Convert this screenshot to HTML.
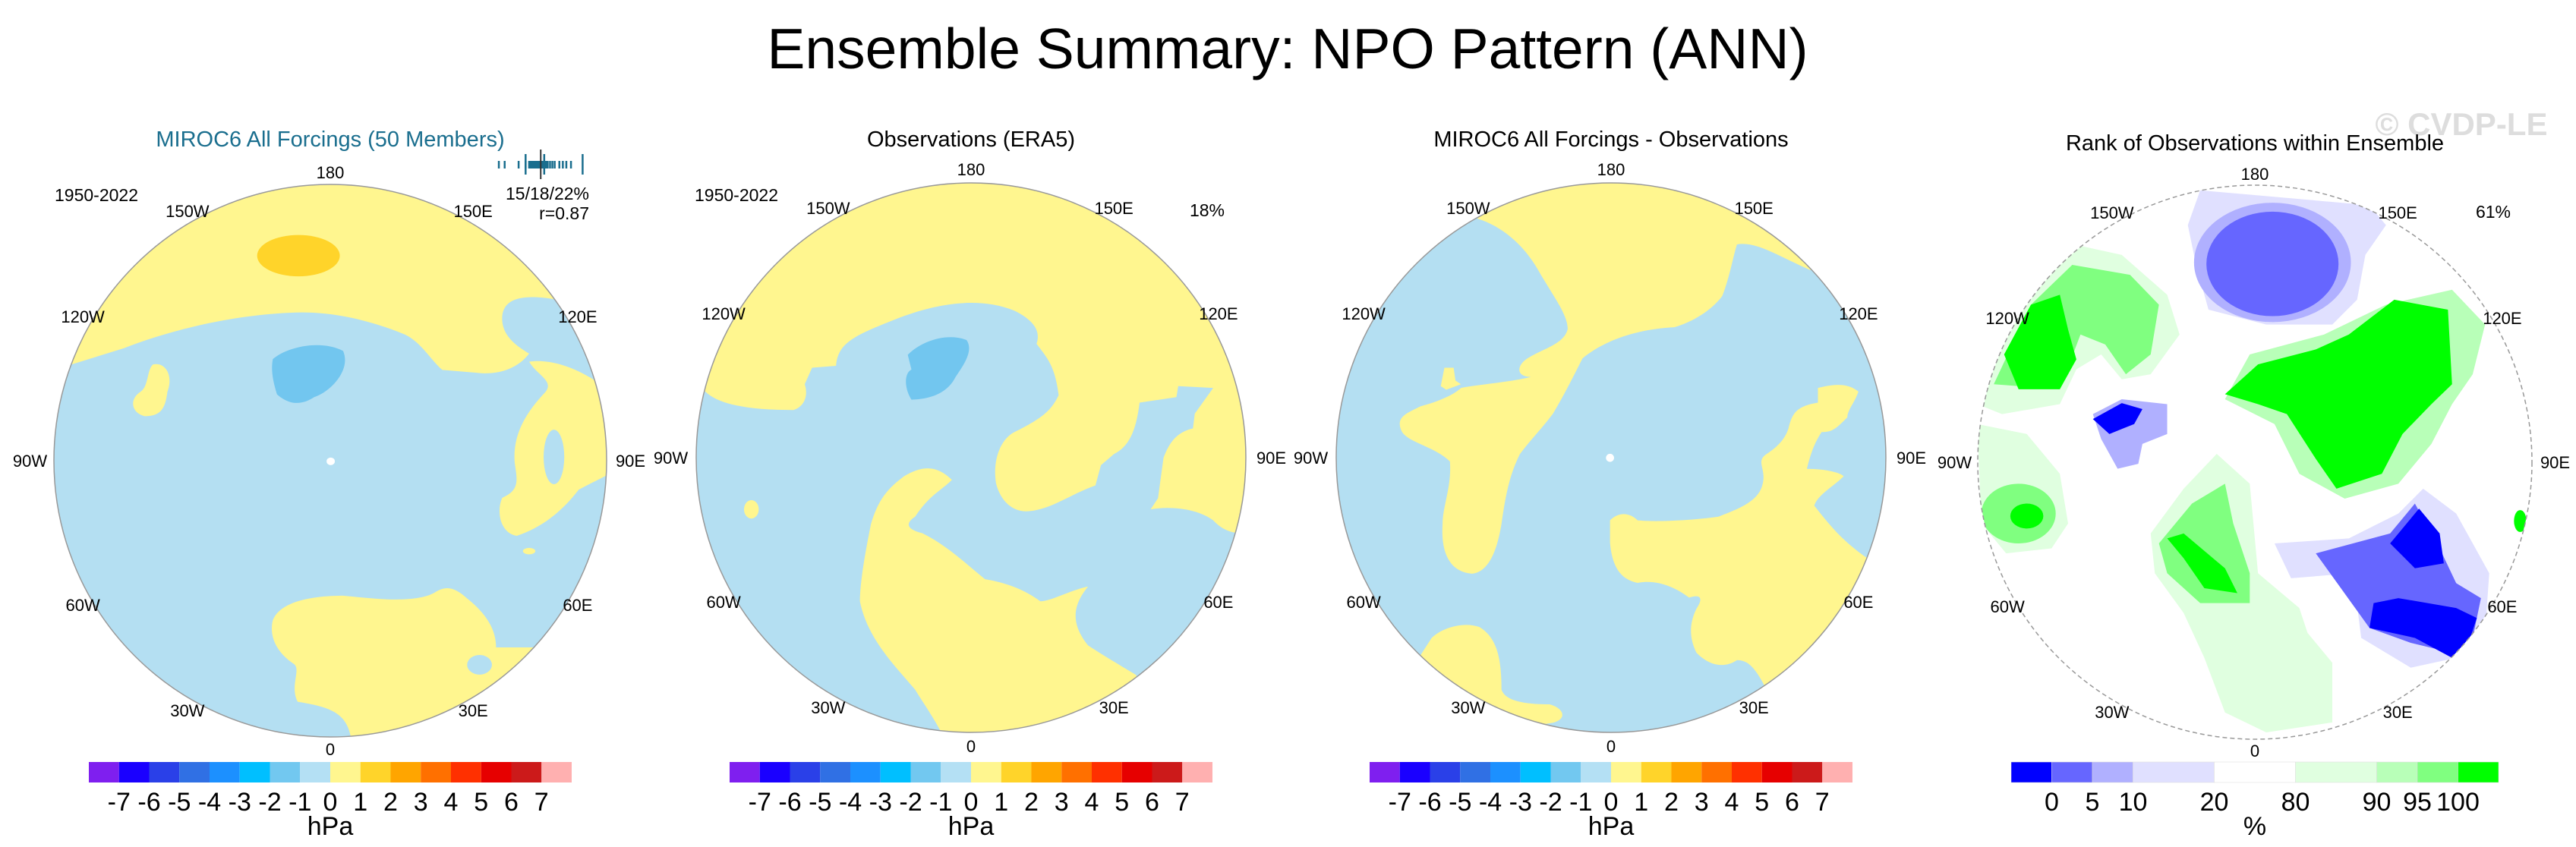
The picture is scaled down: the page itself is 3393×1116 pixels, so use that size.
<!DOCTYPE html>
<html><head><meta charset="utf-8"><style>
html,body{margin:0;padding:0;background:#fff}
svg{display:block}
text{font-family:"Liberation Sans",Arial,sans-serif}
</style></head><body>
<svg id="fig" width="3393" height="1116" viewBox="0 0 3393 1116" xmlns="http://www.w3.org/2000/svg">
<defs>
<clipPath id="c1"><circle cx="435" cy="607" r="364"/></clipPath>
<clipPath id="c2"><circle cx="1279" cy="603" r="362"/></clipPath>
<clipPath id="c3"><circle cx="2122" cy="603" r="362"/></clipPath>
<clipPath id="c4"><circle cx="2970" cy="609" r="365"/></clipPath>
</defs>
<text x="1696" y="90" font-size="75" text-anchor="middle">Ensemble Summary: NPO Pattern (ANN)</text>
<text x="3242" y="178" font-size="42" font-weight="bold" fill="#dddddd" text-anchor="middle">© CVDP-LE</text>

<!-- Panel 1 -->
<g>
<text x="435" y="193" font-size="29" fill="#1a6e8e" text-anchor="middle">MIROC6 All Forcings (50 Members)</text>
<text x="127" y="265" font-size="23" text-anchor="middle">1950-2022</text>
<text x="776" y="263" font-size="23" text-anchor="end">15/18/22%</text>
<text x="776" y="289" font-size="23" text-anchor="end">r=0.87</text>
<g id="members"></g>
<g clip-path="url(#c1)">
<rect x="60" y="230" width="760" height="760" fill="#b4dff2"/>
<g transform="scale(0.5445,0.7168)">
<path fill="#fff68f" d="M130 300 L1500 300 L1500 550 L1340 550 C1260 540 1220 550 1215 580 C1210 620 1260 640 1280 650 C1250 680 1200 690 1150 685 L1070 680 C1040 660 1020 630 980 615 C900 590 800 570 700 575 C550 580 400 610 300 640 L130 680 Z"/>
<path fill="#fff68f" d="M1500 680 L1440 700 C1380 670 1320 660 1280 665 C1300 690 1340 700 1320 720 C1270 760 1240 800 1245 850 C1250 880 1260 900 1215 915 C1200 940 1210 980 1250 985 C1310 970 1360 940 1400 900 C1450 880 1480 870 1500 860 Z"/>
<ellipse cx="1340" cy="840" rx="25" ry="50" fill="#b4dff2"/>
<ellipse cx="722" cy="470" rx="100" ry="38" fill="#ffd42a"/>
<path fill="#72c6ef" d="M660 660 C700 635 780 625 830 645 C850 680 800 720 760 730 C730 745 700 745 670 725 C660 700 655 680 660 660 Z"/>
<path fill="#fff68f" d="M370 670 C400 665 420 690 405 720 C400 750 390 765 350 765 C320 760 310 735 340 720 C360 710 355 680 370 670 Z"/>
<ellipse cx="1280" cy="1013" rx="15" ry="6" fill="#fff68f"/>
<path fill="#fff68f" d="M660 1140 C680 1100 780 1095 830 1095 C900 1100 1000 1110 1050 1090 C1080 1075 1100 1080 1130 1100 C1180 1130 1200 1160 1200 1190 L1290 1190 L1300 1300 L900 1400 L850 1360 C840 1310 800 1300 720 1290 C700 1260 730 1230 710 1220 C670 1200 650 1170 660 1140 Z"/>
<ellipse cx="1160" cy="1222" rx="30" ry="18" fill="#b4dff2"/>
<ellipse cx="800" cy="848" rx="10" ry="7" fill="#fff"/>
</g>
</g>
<circle cx="435" cy="607" r="364" fill="none" stroke="#999" stroke-width="1.5"/>
</g>

<!-- Panel 2 -->
<g>
<text x="1279" y="193" font-size="29" text-anchor="middle">Observations (ERA5)</text>
<text x="970" y="265" font-size="23" text-anchor="middle">1950-2022</text>
<text x="1590" y="285" font-size="23" text-anchor="middle">18%</text>
<g clip-path="url(#c2)">
<rect x="900" y="230" width="760" height="760" fill="#fff68f"/>
<g transform="translate(900,230) scale(0.4847)">
<path fill="#b4dff2" d="M0 600 L60 590 C100 630 200 640 300 640 C330 630 340 600 330 570 L350 525 L415 520 C420 460 460 440 560 400 C680 350 800 330 900 370 C960 400 970 430 960 460 C990 500 1010 520 1020 600 C1000 640 980 660 900 700 C860 720 840 780 850 840 C860 880 890 920 940 915 C1000 910 1050 870 1120 845 L1135 790 L1170 760 C1210 740 1230 700 1240 620 L1340 605 L1345 575 L1440 580 L1390 650 L1385 690 C1340 700 1320 730 1305 770 L1290 880 L1270 910 C1330 900 1400 910 1440 940 C1470 970 1490 980 1600 980 L1600 1600 L1250 1400 L1230 1360 C1180 1330 1130 1300 1100 1280 C1060 1230 1050 1180 1100 1120 C1050 1130 1000 1160 970 1160 C930 1130 880 1110 820 1100 C770 1060 720 1010 650 975 C610 965 600 950 630 930 C670 870 700 860 730 830 C690 790 650 790 600 820 C560 850 530 880 510 950 C500 1000 480 1100 480 1160 C500 1260 570 1330 630 1400 C660 1450 700 1500 740 1600 L0 1600 Z"/>
<ellipse cx="185" cy="910" rx="20" ry="25" fill="#fff68f"/>
<path fill="#72c6ef" d="M610 490 C650 450 720 430 770 450 C790 480 760 520 740 550 C720 590 680 610 620 612 C600 580 600 540 620 530 Z"/>
</g>
</g>
<circle cx="1279" cy="603" r="362" fill="none" stroke="#999" stroke-width="1.5"/>
</g>

<!-- Panel 3 -->
<g>
<text x="2122" y="193" font-size="29" text-anchor="middle">MIROC6 All Forcings - Observations</text>
<g clip-path="url(#c3)">
<rect x="1745" y="230" width="760" height="760" fill="#b4dff2"/>
<g transform="translate(1745,230) scale(0.4847)">
<path fill="#fff68f" d="M415 120 C480 140 540 190 580 260 C620 330 660 380 660 420 C650 460 600 470 550 500 C520 520 520 550 560 550 C500 565 420 570 370 580 C350 600 300 620 260 630 C220 650 190 660 210 700 C230 730 300 740 340 780 C345 850 320 900 320 950 C315 1030 340 1080 400 1085 C450 1080 470 1010 480 950 C490 880 500 820 530 760 C560 720 590 690 620 650 C650 600 680 540 700 500 C760 450 850 420 950 415 C1000 400 1050 370 1080 330 C1100 280 1110 220 1120 190 C1170 180 1230 220 1320 260 L1320 0 L415 0 Z"/>
<path fill="#fff68f" d="M325 525 L350 525 L355 560 L370 570 L330 585 L315 575 Z"/>
<path fill="#fff68f" d="M775 940 C800 915 830 920 850 940 C900 945 1000 940 1070 930 C1120 910 1180 890 1190 840 C1200 800 1170 780 1200 760 C1230 740 1250 720 1260 690 C1270 650 1280 630 1340 620 L1340 580 C1380 570 1420 565 1450 590 C1440 620 1420 640 1420 660 C1390 690 1380 700 1350 700 C1330 730 1320 760 1310 800 C1360 800 1400 810 1410 820 C1380 850 1340 870 1330 900 C1370 950 1400 990 1470 1040 L1600 1050 L1600 1600 L1200 1400 C1170 1340 1150 1320 1120 1320 C1090 1340 1050 1340 1010 1300 C990 1260 990 1220 1010 1180 C1030 1150 1020 1140 990 1150 C950 1120 900 1100 850 1110 C800 1100 780 1060 775 1000 Z"/>
<path fill="#fff68f" d="M290 1260 C320 1230 380 1215 420 1230 C470 1260 480 1320 480 1400 C490 1430 540 1440 610 1440 C650 1450 660 1480 620 1490 L560 1500 L200 1400 Z"/>
<circle cx="775" cy="770" r="11" fill="#fff"/>
</g>
</g>
<circle cx="2122" cy="603" r="362" fill="none" stroke="#999" stroke-width="1.5"/>
</g>

<!-- Panel 4 -->
<g>
<text x="2970" y="198" font-size="29" text-anchor="middle">Rank of Observations within Ensemble</text>
<text x="3284" y="287" font-size="23" text-anchor="middle">61%</text>
<g clip-path="url(#c4)">
<rect x="2600" y="240" width="740" height="740" fill="#fff"/>
<g transform="translate(2550,100) scale(0.5438,0.6553)">
<path fill="#e0e0ff" d="M640 230 L1050 260 L1090 300 L1040 360 L1020 450 L960 500 L800 500 L660 470 L630 380 L610 300 Z"/>
<ellipse cx="815" cy="375" rx="190" ry="120" fill="#b0b0ff"/>
<ellipse cx="815" cy="378" rx="160" ry="105" fill="#6666ff"/>
<path fill="#e0ffe0" d="M100 660 L200 470 L340 340 L450 360 L560 440 L590 520 L520 600 L450 610 L400 560 L340 590 L300 660 L160 680 Z"/>
<path fill="#80ff80" d="M140 620 L230 460 L330 380 L470 400 L540 460 L520 560 L460 600 L410 540 L350 520 L300 630 Z"/>
<path fill="#00ff00" d="M165 560 L230 460 L300 440 L320 510 L340 570 L300 630 L200 630 Z"/>
<path fill="#b8ffb8" d="M700 650 L760 560 L940 520 L1090 460 L1250 430 L1330 500 L1300 600 L1250 660 L1200 740 L1120 820 L990 850 L880 800 L820 700 Z"/>
<path fill="#00ff00" d="M700 640 L780 580 L920 550 L1000 520 L1110 450 L1240 470 L1250 620 L1200 660 L1130 720 L1080 800 L970 830 L920 770 L850 680 L780 660 Z"/>
<path fill="#b0b0ff" d="M380 680 L450 650 L560 660 L560 720 L500 740 L490 780 L440 790 L400 730 Z"/>
<path fill="#0000ff" d="M380 690 L450 658 L500 670 L480 700 L420 720 Z"/>
<path fill="#e0ffe0" d="M100 700 L220 720 L300 800 L320 900 L280 950 L170 960 L110 900 Z"/>
<ellipse cx="200" cy="880" rx="90" ry="60" fill="#80ff80"/>
<ellipse cx="220" cy="885" rx="40" ry="25" fill="#00ff00"/>
<path fill="#e0ffe0" d="M520 920 L600 830 L680 760 L760 820 L780 1000 L880 1070 L900 1120 L960 1180 L960 1300 L800 1320 L700 1280 L650 1170 L600 1080 L530 1000 Z"/>
<path fill="#80ff80" d="M540 940 L620 860 L700 820 L720 900 L760 1000 L760 1060 L640 1060 L560 1000 Z"/>
<path fill="#00ff00" d="M560 930 L600 920 L700 990 L730 1040 L650 1030 L600 970 Z"/>
<path fill="#e0e0ff" d="M820 940 L1000 930 L1120 880 L1180 830 L1260 880 L1340 1000 L1330 1120 L1260 1170 L1150 1190 L1030 1130 L1010 1000 L860 1010 Z"/>
<path fill="#6666ff" d="M920 960 L1100 920 L1160 860 L1220 950 L1260 1020 L1320 1050 L1300 1130 L1250 1160 L1150 1140 L1050 1110 Z"/>
<path fill="#0000ff" d="M1100 940 L1170 870 L1220 920 L1230 980 L1160 990 Z"/>
<path fill="#0000ff" d="M1060 1060 L1120 1050 L1260 1070 L1310 1090 L1290 1140 L1250 1170 L1160 1130 L1050 1110 Z"/>
<ellipse cx="1415" cy="895" rx="15" ry="22" fill="#00ff00"/>
</g>
</g>
<circle cx="2970" cy="609" r="365" fill="none" stroke="#999" stroke-width="1.5" stroke-dasharray="6 4"/>
</g>

<g id="lonlabels"></g>
<g id="cbars"></g>
</svg>
<script>
const NS = "http://www.w3.org/2000/svg";
const anomalyLevels = [-7,-6,-5,-4,-3,-2,-1,0,1,2,3,4,5,6,7];
const anomalyColors = ["#7f1fef","#1a00ff","#2a40e8","#3070e4","#1c90ff","#00bfff","#72c8f0","#b4e0f4","#fff68f","#ffd42a","#ffa500","#ff7000","#ff3000","#e60000","#cc1a1a","#ffb0b0"];
const rankLevels = [0,5,10,20,80,90,95,100];
const rankWidths = [1,1,1,2,2,2,1,1,1];
const rankColors = ["#0000ff","#6666ff","#b0b0ff","#e0e0ff","#ffffff","#e0ffe0","#b8ffb8","#80ff80","#00ff00"];
const memberValues = [-0.30,-0.25,-0.13,-0.07,-0.04,-0.03,-0.02,-0.01,0.00,0.01,0.02,0.03,0.04,0.05,0.06,0.07,0.08,0.09,0.10,0.11,0.12,0.14,0.16,0.18,0.22,0.25,0.28,0.32];
const memberLong = [-0.07,0.09,0.42];
const obsValue = 0.06;
const lonNames = ["180","150W","150E","120W","120E","90W","90E","60W","60E","30W","30E","0"];
const lonAngles = [180,-150,150,-120,120,-90,90,-60,60,-30,30,0];
const panelCenters = [[435,607],[1279,603],[2122,603],[2970,609]];

function mk(tag, attrs, parent){const e=document.createElementNS(NS,tag);for(const k in attrs)e.setAttribute(k,attrs[k]);parent.appendChild(e);return e;}

const mg=document.getElementById('members');
const mx=v=>654+(v+0.32)/(0.45+0.32)*(772-654);
memberValues.forEach(v=>{const l=mk('line',{x1:mx(v),x2:mx(v),y1:212,y2:222,stroke:'#1a6e8e','stroke-width':2.5},mg);

});
memberLong.forEach(v=>{const l=mk('line',{x1:mx(v),x2:mx(v),y1:203,y2:230,stroke:'#1a6e8e','stroke-width':2.5},mg);

});
{const l=mk('line',{x1:mx(obsValue),x2:mx(obsValue),y1:197,y2:236,stroke:'#333','stroke-width':2},mg);

}

const lg=document.getElementById('lonlabels');
panelCenters.forEach(([cx,cy])=>{
  lonNames.forEach((n,i)=>{
    const a=lonAngles[i]*Math.PI/180;
    const R = 384;
    const x=cx+Math.sin(a)*R*(Math.abs(lonAngles[i])==90?1.03:0.98);
    const y=cy+Math.cos(a)*R*0.99;
    const t=mk('text',{x:x,y:y+8,'font-size':22,'text-anchor':'middle'},lg);
    t.textContent=n;
    
    
  });
});

const cg=document.getElementById('cbars');
const cbY=1004, cbH=27;
[435,1279,2122].forEach(cx=>{
  const x0=cx-318, w=636/anomalyColors.length;
  anomalyColors.forEach((c,i)=>{const r=mk('rect',{x:x0+i*w,y:cbY,width:w,height:cbH,fill:c},cg);
    
    });
  anomalyLevels.forEach((v,i)=>{const t=mk('text',{x:x0+(i+1)*w,y:1068,'font-size':34,'text-anchor':'middle'},cg);
    t.textContent=String(v);
    
    });
  const u=mk('text',{x:cx,y:1100,'font-size':34,'text-anchor':'middle'},cg);u.textContent='hPa';
  
  
});
{
  const x0=2649,total=rankWidths.reduce((a,b)=>a+b,0),unit=642/total;
  let x=x0;
  rankColors.forEach((c,i)=>{const w=rankWidths[i]*unit;const r=mk('rect',{x:x,y:cbY,width:w,height:cbH,fill:c,stroke:'#ddd','stroke-width':0.5},cg);
    
    
    if(i<rankLevels.length){const t=mk('text',{x:x+w,y:1068,'font-size':34,'text-anchor':'middle'},cg);t.textContent=String(rankLevels[i]);
      
      }
    x+=w;});
  const u=mk('text',{x:2970,y:1100,'font-size':34,'text-anchor':'middle'},cg);u.textContent='%';
  
  
}
</script>
</body></html>
